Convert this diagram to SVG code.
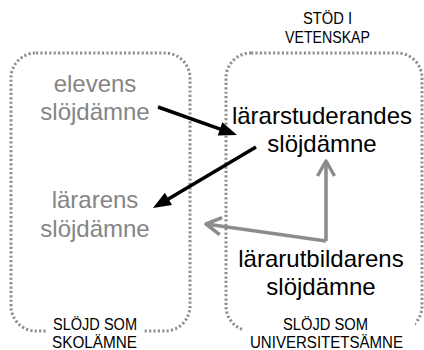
<svg xmlns="http://www.w3.org/2000/svg" width="424" height="350" viewBox="0 0 424 350">
  <style>
    .frame { fill: none; stroke: #8f8f8f; stroke-width: 3; stroke-dasharray: 2.2 2.2; }
    .big { font-family: "Liberation Sans", Arial, sans-serif; font-size: 24px; text-anchor: middle; }
    .dim { fill: #858585; }
    .dark { fill: #000; }
    .cap { font-family: "Liberation Sans", Arial, sans-serif; font-size: 16px; text-anchor: middle; fill: #000; }
    .blk { stroke: #000; stroke-width: 3.5; fill: none; }
    .gry { stroke: #8c8c8c; stroke-width: 3.5; fill: none; stroke-linejoin: round; }
  </style>
  <defs>
    <marker id="solid" markerUnits="userSpaceOnUse" markerWidth="20" markerHeight="16" refX="4" refY="7" orient="auto" overflow="visible">
      <path d="M0,0 L18,7 L0,14 z" fill="#000"/>
    </marker>
    <marker id="open" markerUnits="userSpaceOnUse" markerWidth="20" markerHeight="20" refX="0" refY="0" orient="auto" overflow="visible">
      <path d="M-15,-8.5 L0,0 L-15,8.5" fill="none" stroke="#8c8c8c" stroke-width="3.5" stroke-linejoin="round" stroke-linecap="butt"/>
    </marker>
  </defs>

  <rect width="424" height="350" fill="#fff"/>

  <!-- school subject frame -->
  <g id="skolamne">
    <rect class="frame" x="11" y="53" width="179" height="278" rx="25" ry="25"/>
    <rect x="47" y="316" width="96" height="34" fill="#fff"/>
    <text class="cap" x="95" y="330" textLength="84" lengthAdjust="spacingAndGlyphs">SLÖJD SOM</text>
    <text class="cap" x="94.5" y="348" textLength="85" lengthAdjust="spacingAndGlyphs">SKOLÄMNE</text>
  </g>

  <!-- university subject frame -->
  <g id="universitetsamne">
    <rect class="frame" x="226" y="53" width="196" height="278" rx="25" ry="25"/>
    <rect x="243" y="316" width="172" height="34" fill="#fff"/>
    <text class="cap" x="325.5" y="330" textLength="85" lengthAdjust="spacingAndGlyphs">SLÖJD SOM</text>
    <text class="cap" x="326.5" y="348" textLength="153" lengthAdjust="spacingAndGlyphs">UNIVERSITETSÄMNE</text>
  </g>

  <g id="stod">
    <text class="cap" x="327.5" y="24" textLength="49" lengthAdjust="spacingAndGlyphs">STÖD I</text>
    <text class="cap" x="327.5" y="43" textLength="85" lengthAdjust="spacingAndGlyphs">VETENSKAP</text>
  </g>

  <g id="elevens">
    <text class="big dim" x="95" y="92">elevens</text>
    <text class="big dim" x="95" y="120">slöjdämne</text>
  </g>

  <g id="lararens">
    <text class="big dim" x="95" y="208">lärarens</text>
    <text class="big dim" x="95" y="237">slöjdämne</text>
  </g>

  <g id="lararstuderandes">
    <text class="big dark" x="322" y="124">lärarstuderandes</text>
    <text class="big dark" x="322" y="152">slöjdämne</text>
  </g>

  <g id="lararutbildarens">
    <text class="big dark" x="321" y="267">lärarutbildarens</text>
    <text class="big dark" x="321" y="295">slöjdämne</text>
  </g>

  <g id="connectors">
    <path class="blk" d="M158,107 L223.8,130.3" marker-end="url(#solid)"/>
    <path class="blk" d="M256,147 L165,200.9" marker-end="url(#solid)"/>
    <path class="gry" d="M326,241 L326,161" marker-end="url(#open)"/>
    <path class="gry" d="M326,241 L206,224" marker-end="url(#open)"/>
  </g>
</svg>
